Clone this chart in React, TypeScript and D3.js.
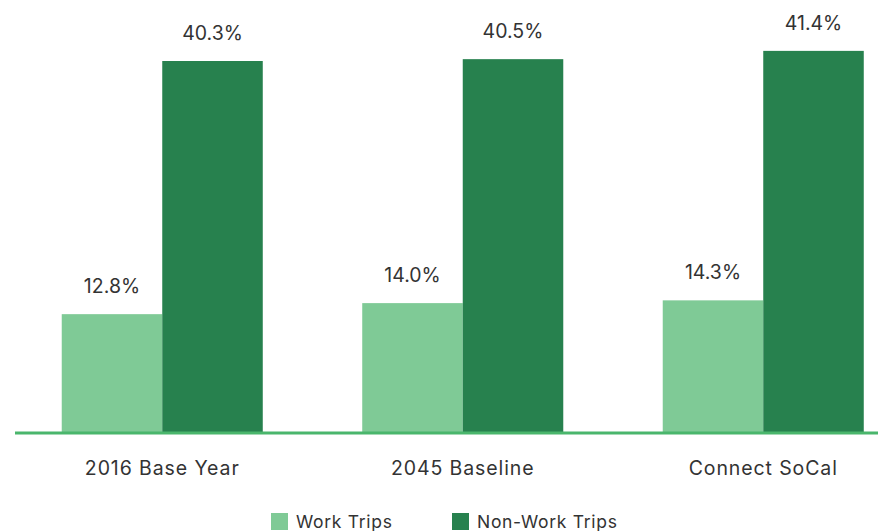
import React from "react";
import * as d3 from "d3";

const categories = ["2016 Base Year", "2045 Baseline", "Connect SoCal"];
const seriesNames = ["Work Trips", "Non-Work Trips"];
const workTrips = [12.8, 14.0, 14.3];
const nonWorkTrips = [40.3, 40.5, 41.4];
const colors = ["#7fca96", "#27814e"];

const W = 878;
const H = 531;
const FONT = "Inter, 'Open Sans', 'Noto Sans', sans-serif";

export default function App() {
  const baseY = 432;
  const x0 = d3.scaleBand<string>().domain(categories).range([12, 913.5]).paddingInner(0.331).paddingOuter(0.1655);
  const x1 = d3.scaleBand<string>().domain(seriesNames).range([0, x0.bandwidth()]).padding(0);
  const y = d3.scaleLinear().domain([0, 40.3]).range([baseY, 61]);
  const series = [workTrips, nonWorkTrips];

  return (
    <svg width={W} height={H} style={{ position: "absolute", left: 0, top: 0, background: "#fff" }} fontFamily={FONT}>
      {categories.map((c, i) => (
        <g key={c} transform={`translate(${x0(c)},0)`}>
          {seriesNames.map((s, j) => {
            const v = series[j][i];
            return (
              <g key={s}>
                <rect x={x1(s)} y={y(v)} width={x1.bandwidth()} height={baseY - y(v)} fill={colors[j]} />
                <text x={(x1(s) as number) + x1.bandwidth() / 2} y={y(v) - 21} textAnchor="middle" fontSize={19.5} fill="#333">
                  {v.toFixed(1) + "%"}
                </text>
              </g>
            );
          })}
          <text x={x0.bandwidth() / 2} y={475} textAnchor="middle" fontSize={19.5} letterSpacing={0.9} fill="#333">
            {c}
          </text>
        </g>
      ))}
      <line x1={15} x2={W} y1={433} y2={433} stroke="#4ab66c" strokeWidth={3} />
      {seriesNames.map((s, j) => {
        const lx = [271, 452][j];
        return (
          <g key={s}>
            <rect x={lx} y={513} width={17} height={17} fill={colors[j]} />
            <text x={lx + 25} y={528} fontSize={17.5} letterSpacing={0.7} fill="#333">
              {s}
            </text>
          </g>
        );
      })}
    </svg>
  );
}
